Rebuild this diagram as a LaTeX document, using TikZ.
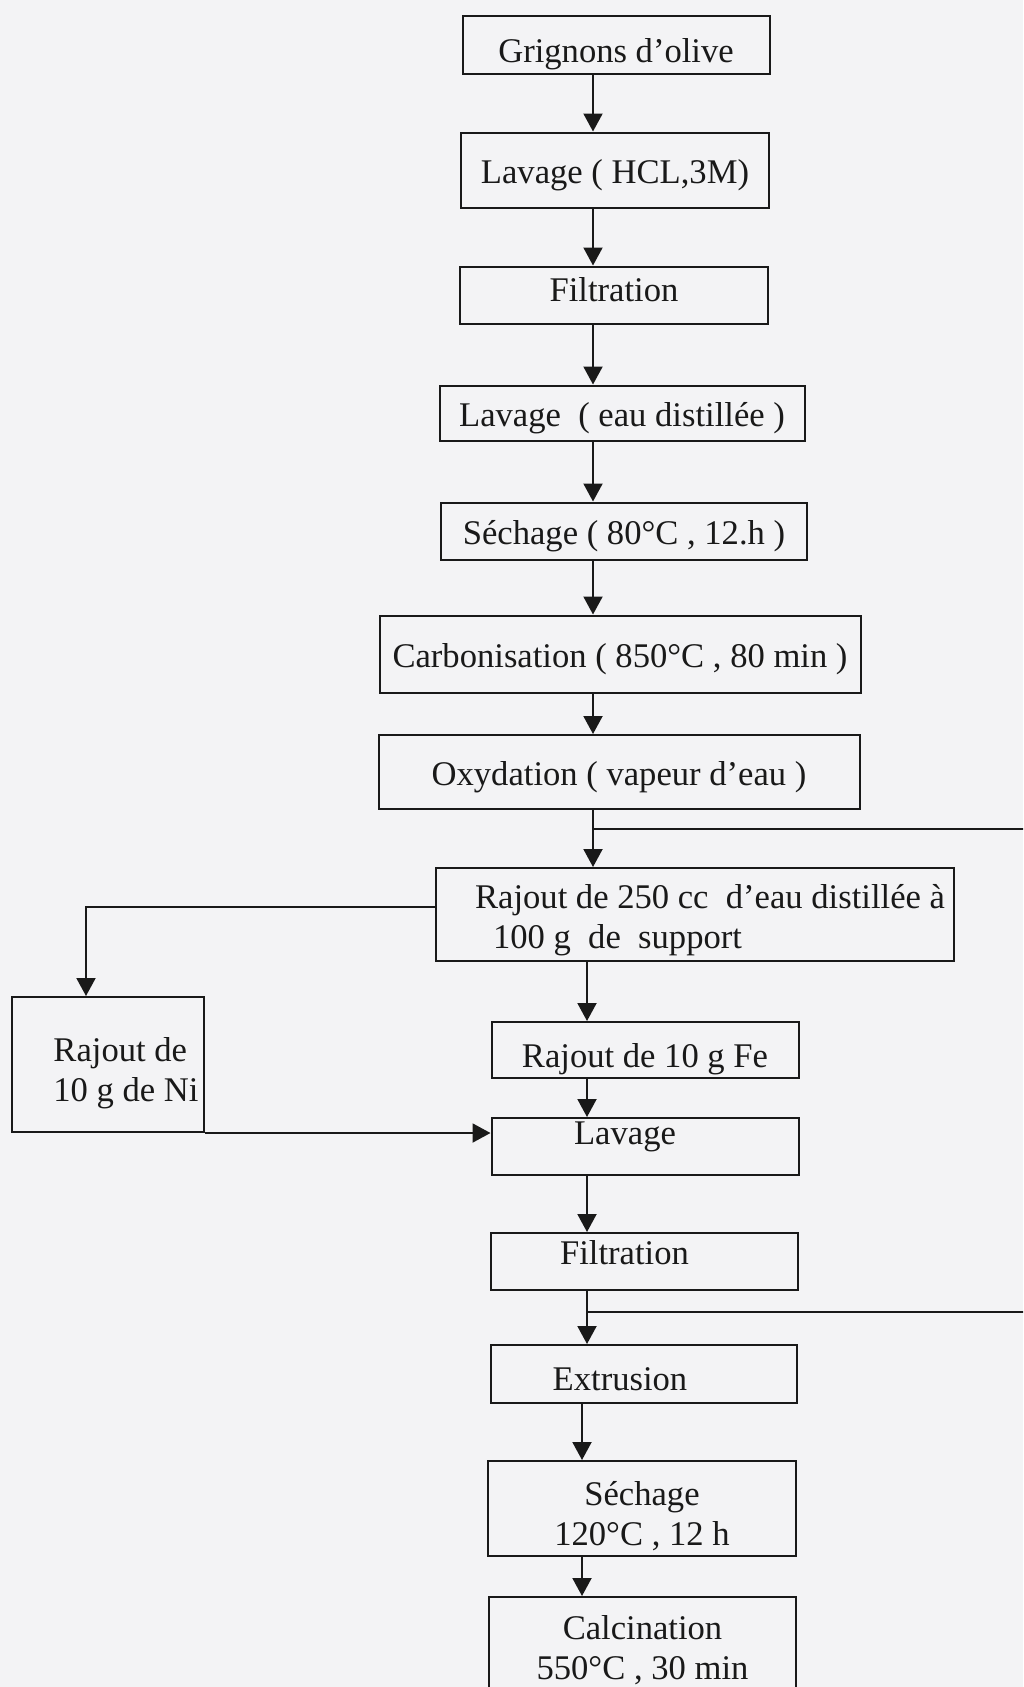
\documentclass[tikz,border=0pt]{standalone}
\usepackage{fontspec}
\setmainfont{Liberation Serif}
\usetikzlibrary{arrows.meta,calc}
\definecolor{ScanGray}{RGB}{243,243,245}
\definecolor{InkBlack}{RGB}{25,25,25}
\newcommand{\topstrut}[1]{\rule{0pt}{#1}}

\begin{document}
\begin{tikzpicture}[x=0.5pt,y=-0.5pt,>={Triangle[length=9pt,width=9.5pt]},
  stepbox/.style={draw=InkBlack,line width=1pt,inner sep=0pt,text=InkBlack,font=\fontsize{17.3}{20}\selectfont,
    execute at begin node={\rule{0pt}{17pt}}},
  twoline/.style={draw=InkBlack,line width=1pt,inner sep=0pt,text=InkBlack,font=\fontsize{17.3}{20}\selectfont},
  flow/.style={->,draw=InkBlack,line width=1pt}]
\clip (0,0) rectangle (1023,1687);
\fill[ScanGray] (0,0) rectangle (1023,1687);
% columns of the arrows
\coordinate (colA) at (593,0);\coordinate (colB) at (587,0);\coordinate (colC) at (582,0);
\coordinate (colNi) at (86,0);\coordinate (edgeR) at (1030,0);
\coordinate (br1) at (593,829);\coordinate (br2) at (587,1312);
% main chain
\node[stepbox,minimum width=153.5pt,minimum height=29pt,text height=21pt] (grig) at (616,45){Grignons d'olive};
\node[stepbox,minimum width=154pt,minimum height=37.5pt] (lavhcl) at (615,170){Lavage ( HCL,3M)};
\node[stepbox,minimum width=154pt,minimum height=28.5pt,text height=12pt,text depth=6pt] (filt1) at (614,295){Filtration};
\node[stepbox,minimum width=182.5pt,minimum height=27.5pt] (laveau) at (622,413){Lavage\ \ ( eau distillée )};
\node[stepbox,minimum width=183pt,minimum height=28.5pt] (sech1) at (624,531){Séchage ( 80°C , 12.h )};
\node[stepbox,minimum width=240.5pt,minimum height=38.5pt] (carbo) at (620,654){Carbonisation ( 850°C , 80 min )};
\node[stepbox,minimum width=240.5pt,minimum height=37pt] (oxyd) at (619,772){Oxydation ( vapeur d'eau )};
\node[twoline,minimum width=259pt,minimum height=46.5pt,align=left] (rajout) at (695,914.5)
  {\hspace*{15pt}\topstrut{18pt}Rajout de 250 cc\ \ d'eau distillée à\\\hspace*{24pt}100 g\ \ de\ \ support};
\node[twoline,minimum width=96pt,minimum height=67.5pt,align=left] (ni) at (108,1064.5)
  {\hspace*{18pt}\topstrut{20.5pt}Rajout de\\\hspace*{18pt}10 g de Ni};
\node[stepbox,minimum width=153.5pt,minimum height=28pt,execute at begin node={\rule{0pt}{21pt}}] (fe) at (645,1050){Rajout de 10 g Fe};
\node[stepbox,minimum width=153.5pt,minimum height=28.5pt,text height=12pt,text depth=14.5pt] (lav2) at (645,1146.5){Lavage\hspace*{20pt}};
\node[stepbox,minimum width=153.5pt,minimum height=28.5pt,text height=12pt,text depth=9.3pt] (filt2) at (644.5,1261.5){Filtration\hspace*{20pt}};
\node[stepbox,minimum width=153pt,minimum height=29pt] (extr) at (644,1374){Extrusion\hspace*{24pt}};
\node[twoline,minimum width=154pt,minimum height=47.5pt,align=center] (sech2) at (642,1508.5){\topstrut{20pt}Séchage\\120°C , 12 h};
\node[twoline,minimum width=153.5pt,minimum height=47.5pt,align=center] (calc) at (642.5,1644.5){\topstrut{17.5pt}Calcination\\550°C , 30 min};
% arrows
\draw[flow] (grig.south -| colA) -- (lavhcl.north -| colA);
\draw[flow] (lavhcl.south -| colA) -- (filt1.north -| colA);
\draw[flow] (filt1.south -| colA) -- (laveau.north -| colA);
\draw[flow] (laveau.south -| colA) -- (sech1.north -| colA);
\draw[flow] (sech1.south -| colA) -- (carbo.north -| colA);
\draw[flow] (carbo.south -| colA) -- (oxyd.north -| colA);
\draw[flow] (oxyd.south -| colA) -- (rajout.north -| colA);
\draw[InkBlack,line width=1pt] (br1) -- (br1 -| edgeR);
\draw[flow] ([yshift=3.75pt]rajout.west) -| (ni.north -| colNi);
\draw[flow] (rajout.south -| colB) -- (fe.north -| colB);
\draw[flow] (fe.south -| colB) -- (lav2.north -| colB);
\draw[flow] (ni.south east) -- (ni.south east -| lav2.west);
\draw[flow] (lav2.south -| colB) -- (filt2.north -| colB);
\draw[flow] (filt2.south -| colB) -- (extr.north -| colB);
\draw[InkBlack,line width=1pt] (br2) -- (br2 -| edgeR);
\draw[flow] (extr.south -| colC) -- (sech2.north -| colC);
\draw[flow] (sech2.south -| colC) -- (calc.north -| colC);
\end{tikzpicture}
\end{document}
